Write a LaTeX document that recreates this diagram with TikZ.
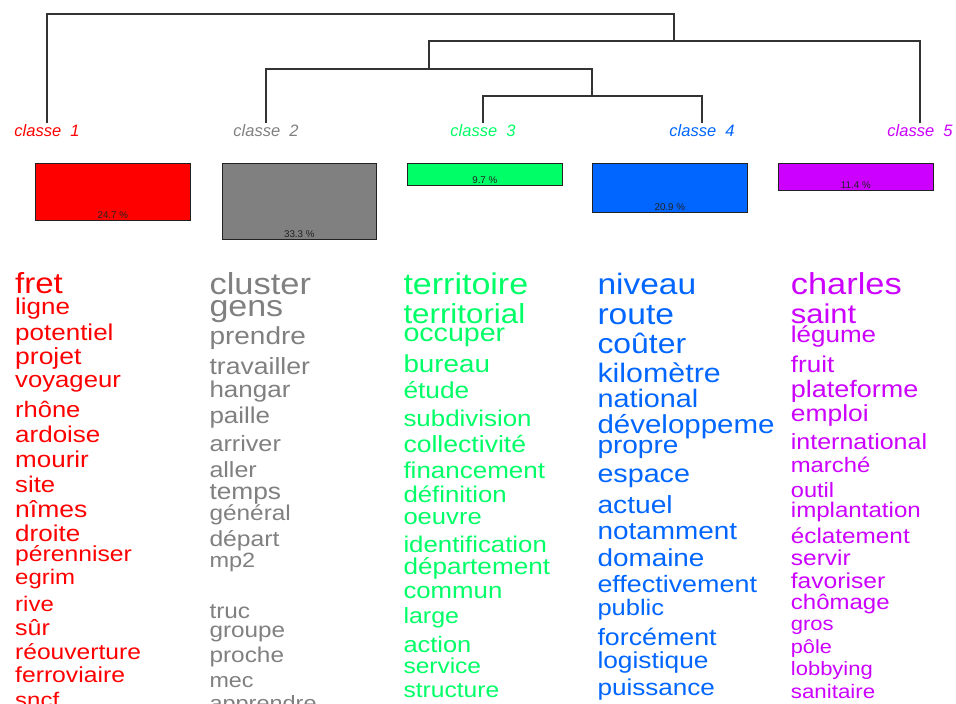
\documentclass[tikz,border=0pt]{standalone}
\usepackage{fontspec}
\usepackage{graphicx}
\setmainfont{Liberation Sans}
\definecolor{clsA}{HTML}{FF0000}
\definecolor{clsB}{HTML}{808080}
\definecolor{clsC}{HTML}{00FF66}
\definecolor{clsD}{HTML}{0066FF}
\definecolor{clsE}{HTML}{CC00FF}
\definecolor{dendro}{HTML}{333333}
\definecolor{pctcol}{HTML}{222222}
\newcommand{\wrd}[2]{\scalebox{1}[0.88]{\fontsize{#1}{#1}\selectfont #2}}
\begin{document}
\begin{tikzpicture}[x=1pt,y=-1pt,
  dline/.style={draw=dendro,line width=1.3pt},
  clabel/.style={inner sep=0pt,anchor=base,font=\fontsize{16.5}{16.5}\selectfont\itshape},
  bar/.style={draw=pctcol,line width=1.2pt,anchor=north west,inner sep=0pt,minimum width=154.5pt},
  pct/.style={inner sep=0pt,text=pctcol,font=\fontsize{9.8}{9.8}\selectfont},
  word/.style={inner sep=0pt,anchor=base west}]
\useasboundingbox (0,0) rectangle (956,704);
\clip (0,0) rectangle (956,704);
% dendrogram
\coordinate (l1) at (47,123);
\coordinate (l2) at (266,123);
\coordinate (l3) at (483,123);
\coordinate (l4) at (702,123);
\coordinate (l5) at (920,123);
\coordinate (j4) at (592,96);
\coordinate (j3) at (429,69);
\coordinate (j2) at (674,41);
\coordinate (root) at (674,14);
\draw[dline] (l3) |- (j4) -| (l4);
\draw[dline] (l2) |- (j3) -| (j4);
\draw[dline] (j3) |- (j2) -| (l5);
\draw[dline] (l1) |- (root) -- (j2);
% class labels
\node[clabel,text=clsA] (c1) at (47,136.5) {classe\ \ 1};
\node[clabel,text=clsB] (c2) at (266,136.5) {classe\ \ 2};
\node[clabel,text=clsC] (c3) at (483,136.5) {classe\ \ 3};
\node[clabel,text=clsD] (c4) at (702,136.5) {classe\ \ 4};
\node[clabel,text=clsE] (c5) at (920,136.5) {classe\ \ 5};
% bars
\node[bar,fill=clsA,minimum height=57pt] (b1) at (35,163) {};
\node[bar,fill=clsB,minimum height=76pt] (b2) at (221.5,163) {};
\node[bar,fill=clsC,minimum height=22pt] (b3) at (407,163) {};
\node[bar,fill=clsD,minimum height=48.5pt] (b4) at (592,163) {};
\node[bar,fill=clsE,minimum height=27pt] (b5) at (778,163) {};
\node[pct] (p1) at ([yshift=6pt]b1.south) {24.7 \%};
\node[pct] (p2) at ([yshift=6pt]b2.south) {33.3 \%};
\node[pct] (p3) at ([yshift=6pt]b3.south) {9.7 \%};
\node[pct] (p4) at ([yshift=6pt]b4.south) {20.9 \%};
\node[pct] (p5) at ([yshift=6pt]b5.south) {11.4 \%};
% words
\foreach \w/\s/\y [count=\i] in {fret/33/293, ligne/26/314, potentiel/26/340, projet/26.5/364, voyageur/25.7/387, rhône/25.5/417, ardoise/26/442, mourir/26/467, site/25.7/492, nîmes/26.5/517, droite/26/541, pérenniser/24.7/561, egrim/24/584, rive/24/611, sûr/25/635, réouverture/24.6/659, ferroviaire/24.7/682, sncf/24/707}
  \node[word,text=clsA] (wa\i) at (15,\y) {\wrd{\s}{\w}};
\foreach \w/\s/\y [count=\i] in {cluster/34.5/294, gens/34/316, prendre/28/344, travailler/26.6/374, hangar/26/397, paille/26/423, arriver/25.2/451, aller/25/477, temps/26.3/499, général/24.4/520, départ/24.7/546, mp2/23.5/567, truc/24.4/618, groupe/24.3/637, proche/24.4/662, mec/23.3/687, apprendre/23.5/710}
  \node[word,text=clsB] (wb\i) at (209.3,\y) {\wrd{\s}{\w}};
\foreach \w/\s/\y [count=\i] in {territoire/34/294, territorial/31.3/323, occuper/28.6/341, bureau/27.8/372, étude/26.3/398, subdivision/25.9/426, collectivité/26.6/452, financement/26/478, définition/25.8/502, oeuvre/25.6/524, identification/25.8/552, département/26.1/574, commun/25.8/598, large/25/623, action/25.4/652, service/24.5/673, structure/24.6/697}
  \node[word,text=clsC] (wc\i) at (403.3,\y) {\wrd{\s}{\w}};
\foreach \w/\s/\y [count=\i] in {niveau/33.5/294, route/33.6/324, coûter/31.9/353, kilomètre/30.4/382, national/28.8/407, développeme/29.5/433, propre/28/453, espace/28.7/482, actuel/28.2/513, notamment/27.9/539, domaine/27.9/566, effectivement/26.9/592, public/25.5/615, forcément/26.8/645, logistique/26.3/668, puissance/26.1/695}
  \node[word,text=clsD] (wd\i) at (597.3,\y) {\wrd{\s}{\w}};
\foreach \w/\s/\y [count=\i] in {charles/34.4/294, saint/30.9/323, légume/26/342, fruit/26/372, plateforme/27/397, emploi/26.4/421, international/25/449, marché/23.8/472, outil/23.6/497, implantation/24.1/517, éclatement/24.3/543, servir/24.5/565, favoriser/24.6/588, chômage/24/609, gros/22/630, pôle/21.7/653, lobbying/22/675, sanitaire/22.3/698}
  \node[word,text=clsE] (we\i) at (790.7,\y) {\wrd{\s}{\w}};
\end{tikzpicture}
\end{document}
